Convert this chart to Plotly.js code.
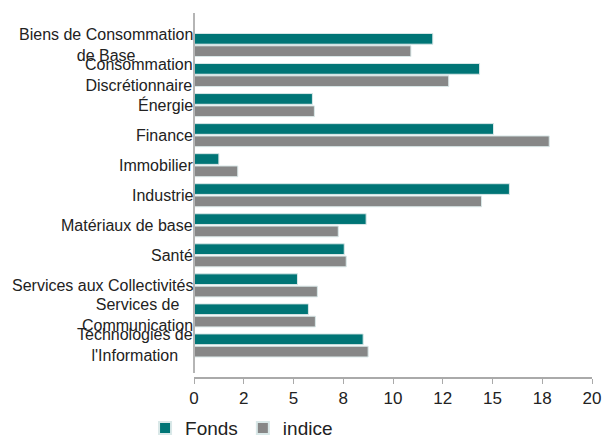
<!DOCTYPE html>
<html>
<head>
<meta charset="utf-8">
<script src="https://cdn.plot.ly/plotly-3.0.1.min.js"></script>
<style>html,body{margin:0;padding:0;background:#fff;}#chart{width:603px;height:438px;}</style>
</head>
<body>
<div id="chart"></div>
<script>
const categories = [
  "Biens de Consommation<br>de Base",
  "Consommation<br>Discrétionnaire",
  "Énergie",
  "Finance",
  "Immobilier",
  "Industrie",
  "Matériaux de base",
  "Santé",
  "Services aux Collectivités",
  "Services de<br>Communication",
  "Technologies de<br>l'Information"
];
const fonds  = [12.0, 14.35, 5.95, 15.05, 1.25, 15.85, 8.65, 7.55, 5.2, 5.75, 8.5];
const indice = [10.9, 12.8, 6.05, 17.85, 2.2, 14.45, 7.25, 7.65, 6.2, 6.1, 8.75];
const tickVals = [0, 2.5, 5, 7.5, 10, 12.5, 15, 17.5, 20];
const tickText = ["0", "2", "5", "8", "10", "12", "15", "18", "20"];
const seriesNames = ["Fonds", "indice"];
const seriesColors = ["#007576", "#878787"];

const FONT = "Liberation Sans, Arial, sans-serif";
const idx = categories.map((c, i) => i);

const traces = [fonds, indice].map((vals, k) => ({
  type: "bar",
  orientation: "h",
  name: seriesNames[k],
  x: vals,
  y: idx,
  marker: {color: seriesColors[k], line: {color: "#d9e8e8", width: 1}},
  hoverinfo: "x+name"
}));

const annotations = categories.map((c, i) => ({
  text: c,
  x: 0, xref: "paper", xanchor: "right", xshift: 1,
  y: i, yref: "y", yanchor: "middle",
  align: "center",
  showarrow: false,
  font: {family: FONT, size: 16, color: "#222"}
}));

const layout = {
  width: 603, height: 438,
  margin: {l: 194, r: 11, t: 13, b: 61, autoexpand: false},
  paper_bgcolor: "#fff", plot_bgcolor: "#fff",
  barmode: "group",
  bargap: 0.18,
  bargroupgap: 0.13,
  font: {family: FONT, color: "#222"},
  xaxis: {
    range: [0, 20],
    tickmode: "array", tickvals: tickVals, ticktext: tickText,
    showgrid: false, zeroline: false,
    showline: true, linecolor: "#aaaaaa", linewidth: 2,
    ticks: "outside", ticklen: 5, tickcolor: "#aaaaaa", tickwidth: 1,
    tickfont: {family: FONT, size: 17, color: "#222"},
    automargin: false,
    fixedrange: true
  },
  yaxis: {
    range: [11.05, -1.065],
    showticklabels: false, showgrid: false, zeroline: false,
    showline: false, ticks: "",
    automargin: false,
    fixedrange: true
  },
  shapes: [{
    type: "line", layer: "above",
    xref: "paper", yref: "paper",
    x0: 0, x1: 0, y0: 4/364, y1: 1,
    line: {color: "#b5b5b5", width: 2}
  }],
  annotations: annotations,
  showlegend: true,
  legend: {
    orientation: "h",
    x: -0.123, xanchor: "left",
    y: -0.088, yanchor: "top",
    font: {family: FONT, size: 19, color: "#222"},
    itemsizing: "constant",
    traceorder: "normal"
  }
};

Plotly.newPlot("chart", traces, layout, {displayModeBar: false, staticPlot: true});
</script>
</body>
</html>
